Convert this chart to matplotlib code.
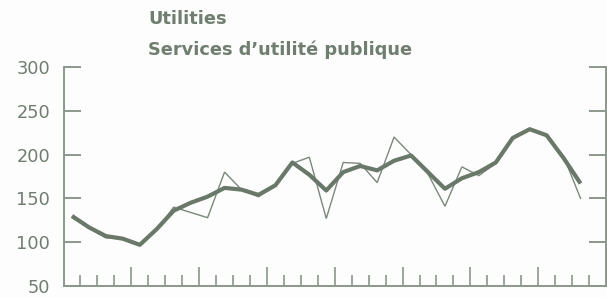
import matplotlib
matplotlib.use('Agg')
from matplotlib import pyplot as plt
import numpy as np

# quarterly values, index 0..30 (placed mid-quarter)
quarters = list(range(31))
actual = [128, 116, 105, 104, 97, 114, 140, 134, 128, 180,
          160, 152, 165, 190, 197, 127, 191, 190, 168, 220,
          200, 178, 141, 186, 176, 190, 219, 229, 222, 198, 150]
trend = [130, 117, 107, 104, 97, 115, 136, 145, 152, 162,
         160, 154, 165, 191, 177, 159, 180, 187, 182, 193,
         199, 180, 161, 173, 180, 191, 219, 229, 222, 196, 167]
yticks = [50, 100, 150, 200, 250, 300]
title_en = 'Utilities'
title_fr = 'Services d\u2019utilit\u00e9 publique'

ink = '#6a786a'
axis_col = '#8a988a'
text_col = '#6f7e6f'

fig = plt.figure(figsize=(6.07, 2.97), dpi=100)
fig.patch.set_facecolor('#fdfdfd')
ax = fig.add_axes([63.5/607, 11/297, (606-63.5)/607, (286-67)/297])
ax.set_facecolor('none')

x = np.array(quarters) + 0.5
ax.plot(x, actual, color='#7a887a', lw=1.0, solid_joinstyle='miter')
ax.plot(x, trend, color=ink, lw=3.0, solid_capstyle='butt')

ax.set_xlim(0, 32)
ax.set_ylim(50, 300)

for s in ['left', 'right', 'bottom']:
    ax.spines[s].set_color(axis_col)
    ax.spines[s].set_linewidth(1.4)
ax.spines['top'].set_visible(False)

ax.set_yticks(yticks)
ax.set_yticklabels([str(v) for v in yticks])
ax.tick_params(axis='y', direction='in', length=12, width=1.4, color=axis_col,
               labelsize=12.8, labelcolor=text_col, pad=9.5, right=True)
ax.set_xticks([4, 8, 12, 16, 20, 24, 28])
ax.set_xticks([q for q in range(1, 32) if q % 4 != 0], minor=True)
ax.set_xticklabels([])
ax.tick_params(axis='x', which='major', direction='in', length=14, width=1.2, color=axis_col)
ax.tick_params(axis='x', which='minor', direction='in', length=8, width=1.2, color=axis_col)

fig.text(148/607, 1 - 24/297, title_en, fontsize=12.8, fontweight='bold',
         color=text_col, va='baseline', ha='left')
fig.text(148/607, 1 - 55/297, title_fr, fontsize=12.8, fontweight='bold',
         color=text_col, va='baseline', ha='left')

fig.savefig('out.png', dpi=100, facecolor=fig.get_facecolor())
